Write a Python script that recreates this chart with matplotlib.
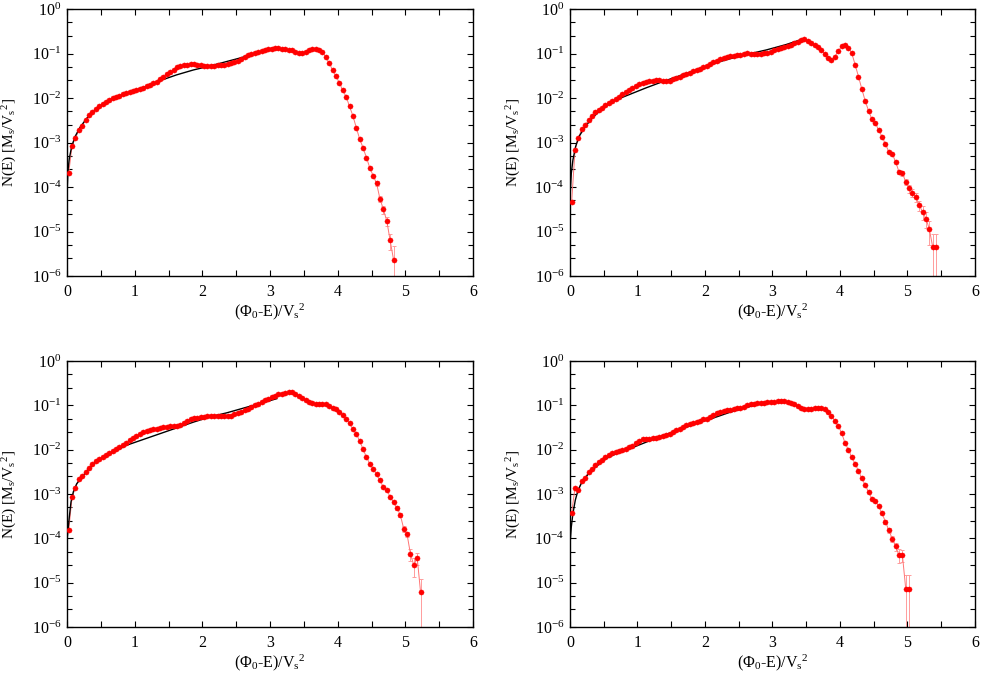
import matplotlib.pyplot as plt
import numpy as np
from matplotlib.ticker import FixedLocator, FixedFormatter, NullFormatter

plt.rcParams['font.family'] = ['Liberation Serif', 'DejaVu Serif']
plt.rcParams['mathtext.fontset'] = 'custom'
plt.rcParams['mathtext.rm'] = 'Liberation Serif'
plt.rcParams['mathtext.it'] = 'Liberation Serif:italic'
plt.rcParams['mathtext.bf'] = 'Liberation Serif:bold'

# histogram bins: width 0.05, first centre 0.025
bin_w = 0.05
bin_0 = 0.025

# log10 N(E), one value per bin
tl_logn = [-3.69, -3.07, -2.90, -2.73, -2.63, -2.49, -2.39, -2.31, -2.25, -2.19,
           -2.14, -2.09, -2.04, -2.01, -1.97, -1.95, -1.92, -1.89, -1.86, -1.84,
           -1.82, -1.80, -1.77, -1.74, -1.71, -1.67, -1.63, -1.58, -1.52, -1.47,
           -1.42, -1.37, -1.31, -1.28, -1.25, -1.25, -1.24, -1.24, -1.25, -1.26,
           -1.28, -1.28, -1.28, -1.27, -1.26, -1.25, -1.25, -1.23, -1.22, -1.20,
           -1.17,
           -1.12, -1.08, -1.04, -1.01, -0.99, -0.97, -0.95, -0.92, -0.90, -0.89,
           -0.87, -0.87, -0.89, -0.90, -0.92, -0.93, -0.97, -0.99, -0.98, -0.96,
           -0.93, -0.90, -0.89,
           -0.92, -0.97, -1.08, -1.22, -1.37, -1.51, -1.66, -1.83, -1.97, -2.19,
           -2.40, -2.67, -2.92, -3.12, -3.34, -3.57, -3.75, -3.92, -4.27, -4.50,
           -4.76, -5.20, -5.63]

tr_logn = [-4.34, -3.17, -2.89, -2.70, -2.61, -2.49, -2.40, -2.32, -2.27, -2.22,
           -2.16, -2.11, -2.07, -2.02, -1.97, -1.92, -1.86, -1.82, -1.77, -1.72,
           -1.69, -1.66, -1.64, -1.62, -1.61, -1.60, -1.60, -1.62, -1.62, -1.61,
           -1.58, -1.55, -1.52, -1.49, -1.46, -1.43, -1.40, -1.37, -1.34, -1.31,
           -1.27, -1.23, -1.19, -1.16, -1.12, -1.09, -1.07, -1.06, -1.05, -1.04,
           -1.04,
           -1.01, -0.99, -1.00, -1.01, -1.01, -1.00, -0.99, -0.98, -0.96, -0.93,
           -0.89, -0.87, -0.85, -0.83, -0.81, -0.77, -0.74, -0.69, -0.68, -0.72,
           -0.77, -0.80, -0.86, -0.92, -1.01, -1.11, -1.15, -1.07, -0.95, -0.83,
           -0.81, -0.87, -0.99, -1.25, -1.52, -1.80, -2.07, -2.29, -2.48, -2.57,
           -2.72, -2.87, -3.04, -3.21, -3.26, -3.43, -3.66, -3.69, -3.88, -4.03,
           -4.13, -4.22, -4.41, -4.56, -4.71, -4.95, -5.35, -5.35]

bl_logn = [-3.82, -3.07, -2.86, -2.67, -2.60, -2.50, -2.41, -2.32, -2.26, -2.21,
           -2.17, -2.12, -2.07, -2.03, -1.98, -1.95, -1.90, -1.85, -1.79, -1.74,
           -1.69, -1.65, -1.61, -1.58, -1.56, -1.54, -1.53, -1.51, -1.50, -1.48,
           -1.47, -1.47, -1.46, -1.44, -1.40, -1.36, -1.32, -1.29, -1.28, -1.26,
           -1.26, -1.24, -1.24, -1.23, -1.23, -1.23, -1.23, -1.23, -1.23, -1.20,
           -1.17,
           -1.14, -1.11, -1.08, -1.04, -1.00, -0.96, -0.92, -0.89, -0.85, -0.81,
           -0.78, -0.75, -0.74, -0.72, -0.71, -0.71, -0.74, -0.78, -0.83, -0.89,
           -0.93, -0.95, -0.96, -0.96, -0.96, -0.98, -1.01, -1.05, -1.09, -1.14,
           -1.21, -1.31, -1.41, -1.53, -1.65, -1.80, -1.99, -2.17, -2.32, -2.44,
           -2.56, -2.69, -2.85, -2.90, -3.07, -3.19, -3.31, -3.47, -3.78, -3.91,
           -4.35, -4.61, -4.44, -5.22]

br_logn = [-3.43, -2.86, -2.90, -2.71, -2.63, -2.50, -2.43, -2.35, -2.28, -2.24,
           -2.17, -2.11, -2.07, -2.05, -2.03, -2.01, -1.98, -1.95, -1.92, -1.86,
           -1.80, -1.77, -1.77, -1.75, -1.74, -1.74, -1.72, -1.70, -1.67, -1.64,
           -1.61, -1.56, -1.53, -1.50, -1.45, -1.42, -1.39, -1.37, -1.35, -1.32,
           -1.30, -1.26, -1.22, -1.18, -1.15, -1.13, -1.11, -1.10, -1.08, -1.07,
           -1.05,
           -1.03, -1.00, -0.98, -0.96, -0.95, -0.94, -0.94, -0.93, -0.93, -0.92,
           -0.91, -0.90, -0.90, -0.92, -0.94, -0.96, -1.01, -1.05, -1.09, -1.09,
           -1.08, -1.05, -1.05, -1.05, -1.08, -1.14, -1.23, -1.35, -1.47, -1.62,
           -1.85, -2.00, -2.17, -2.32, -2.48, -2.65, -2.80, -2.96, -3.11, -3.16,
           -3.28, -3.44, -3.63, -3.82, -4.01, -4.18, -4.38, -4.37, -5.14, -5.14]

# fractional error bars on the last few bins of each panel
tl_relerr = [0.12, 0.15, 0.2, 0.25, 0.4, 1.0]
tr_relerr = [0.12, 0.12, 0.15, 0.2, 0.2, 0.22, 0.25, 0.35, 0.4, 0.55, 1.0, 1.0]
bl_relerr = [0.1, 0.12, 0.15, 0.15, 0.3, 0.45, 0.3, 1.0]
br_relerr = [0.1, 0.12, 0.15, 0.2, 0.35, 0.3, 1.0, 1.0]

# model curves (black), x and log10 N
tl_model_x = [0.001, 0.005, 0.015, 0.034, 0.069, 0.118, 0.192, 0.29, 0.389, 0.537, 0.685,
              0.882, 1.128, 1.374, 1.62, 1.867, 2.113, 2.36, 2.56, 2.8, 3.05]
tl_model_logn = [-4.45, -3.98, -3.62, -3.36, -3.09, -2.87, -2.66, -2.46, -2.31, -2.12, -2.00,
                 -1.89, -1.765, -1.61, -1.48, -1.37, -1.28, -1.18, -1.10, -0.99, -0.87]
tr_model_x = [0.001, 0.005, 0.02, 0.044, 0.084, 0.133, 0.217, 0.341, 0.489, 0.686, 0.884,
              1.131, 1.378, 1.625, 1.872, 2.119, 2.365, 2.563, 2.909, 3.2, 3.44]
tr_model_logn = [-4.6, -4.1, -3.69, -3.39, -3.09, -2.87, -2.66, -2.43, -2.23, -2.04, -1.92,
                 -1.77, -1.63, -1.50, -1.37, -1.23, -1.12, -1.04, -0.92, -0.80, -0.68]
bl_model_x = [0.001, 0.005, 0.034, 0.059, 0.094, 0.143, 0.217, 0.315, 0.438, 0.586, 0.734,
              0.882, 1.128, 1.374, 1.62, 1.867, 2.113, 2.36, 2.557, 2.8, 3.1]
bl_model_logn = [-4.4, -3.97, -3.52, -3.18, -2.95, -2.77, -2.63, -2.45, -2.26, -2.13, -2.02,
                 -1.90, -1.77, -1.64, -1.51, -1.38, -1.26, -1.17, -1.085, -0.98, -0.85]
br_model_x = [0.001, 0.005, 0.02, 0.044, 0.079, 0.119, 0.178, 0.267, 0.39, 0.538, 0.686,
              0.884, 1.131, 1.378, 1.625, 1.872, 2.119, 2.365, 2.563, 2.88]
br_model_logn = [-4.5, -4.04, -3.74, -3.44, -3.14, -2.92, -2.73, -2.56, -2.38, -2.20, -2.09,
                 -1.98, -1.83, -1.68, -1.55, -1.41, -1.29, -1.16, -1.07, -0.94]

x_ticks = [0, 1, 2, 3, 4, 5, 6]
y_ticks = [1e-6, 1e-5, 1e-4, 1e-3, 1e-2, 1e-1, 1e0]
y_ticklabels = ['10$^{-6}$', '10$^{-5}$', '10$^{-4}$', '10$^{-3}$', '10$^{-2}$', '10$^{-1}$', '10$^{0}$']
x_label = '($\\Phi_\\mathrm{0}$-E)/V$_\\mathrm{s}{}^\\mathrm{2}$'
y_label = 'N(E) [M$_\\mathrm{s}$/V$_\\mathrm{s}{}^\\mathrm{2}$]'


def draw_panel(ax, logn, relerr, mx, mlogn):
    logn = np.array(logn)
    e = bin_0 + bin_w * np.arange(len(logn))
    n = 10 ** logn
    # error bars only on the tail
    rel = np.zeros(len(n))
    rel[len(n) - len(relerr):] = relerr
    lo = n * np.minimum(rel, 0.9999)
    hi = n * rel
    ax.errorbar(e, n, yerr=[lo, hi], fmt='none', ecolor='#ff9c9c', elinewidth=0.7,
                capsize=1.6, capthick=0.7, zorder=2)
    ax.plot(e, n, '-', color='#ff7575', lw=0.7, zorder=3)
    ax.plot(mx, 10 ** np.array(mlogn), '-', color='black', lw=1.0, zorder=4)
    ax.plot(e, n, 'o', color='red', ms=3.7, mec='red', mew=0.3, zorder=5)

    ax.set_yscale('log')
    ax.set_xlim(0, 6)
    ax.set_ylim(1e-6, 1)
    ax.xaxis.set_major_locator(FixedLocator(x_ticks))
    ax.xaxis.set_minor_locator(FixedLocator([0.5, 1.5, 2.5, 3.5, 4.5, 5.5]))
    ax.yaxis.set_major_locator(FixedLocator(y_ticks))
    ax.yaxis.set_major_formatter(FixedFormatter(y_ticklabels))
    minors = [m * 10.0 ** k for k in range(-6, 0) for m in (2.5, 5)]
    ax.yaxis.set_minor_locator(FixedLocator(minors))
    ax.yaxis.set_minor_formatter(NullFormatter())
    ax.tick_params(which='both', direction='in', top=True, right=True, width=0.8)
    ax.tick_params(which='major', length=4)
    ax.tick_params(which='minor', length=3.5)
    ax.tick_params(axis='x', which='minor', length=4)
    ax.tick_params(axis='x', labelsize=11.5, pad=6)
    ax.tick_params(axis='y', labelsize=11.5, pad=4)
    for s in ax.spines.values():
        s.set_linewidth(1.0)
    ax.set_xlabel(x_label, fontsize=11.5)
    ax.set_ylabel(y_label, fontsize=11)
    ax.xaxis.set_label_coords(0.5, -0.095)
    ax.yaxis.set_label_coords(-0.117, 0.5)


fig = plt.figure(figsize=(9.81, 6.77), dpi=100)
ax_tl = fig.add_axes([0.0683, 0.5923, 0.4139, 0.3944])
ax_tr = fig.add_axes([0.5810, 0.5923, 0.4128, 0.3944])
ax_bl = fig.add_axes([0.0683, 0.0739, 0.4139, 0.3929])
ax_br = fig.add_axes([0.5810, 0.0739, 0.4128, 0.3929])

draw_panel(ax_tl, tl_logn, tl_relerr, tl_model_x, tl_model_logn)
draw_panel(ax_tr, tr_logn, tr_relerr, tr_model_x, tr_model_logn)
draw_panel(ax_bl, bl_logn, bl_relerr, bl_model_x, bl_model_logn)
draw_panel(ax_br, br_logn, br_relerr, br_model_x, br_model_logn)

fig.savefig('out.png', dpi=100)
